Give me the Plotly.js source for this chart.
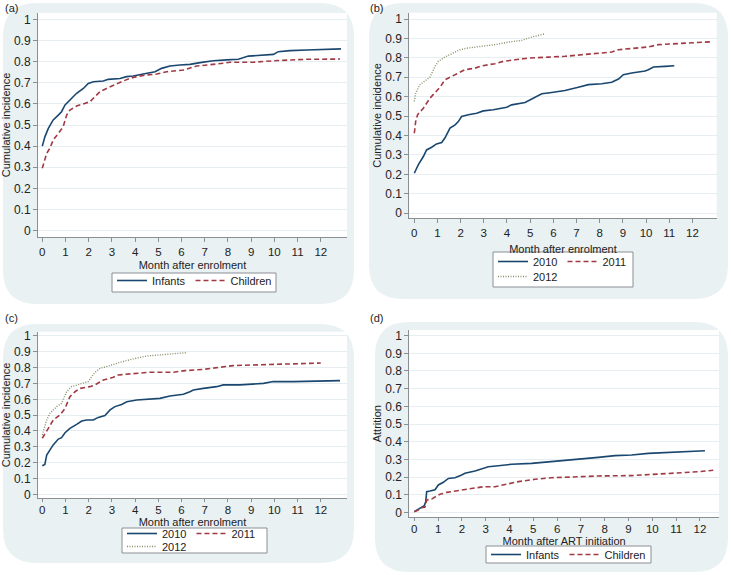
<!DOCTYPE html>
<html>
<head>
<meta charset="utf-8">
<script src="https://cdn.plot.ly/plotly-3.0.1.min.js"></script>
<style>html,body{margin:0;padding:0;background:#fff}#chart{width:731px;height:575px}</style>
</head>
<body>
<div id="chart"></div>
<script>
// ---- Panel (a): cumulative incidence by age group, month after enrolment ----
const aInfantsMonth = [0,0.115,0.26,0.47,0.69,0.83,0.98,1.19,1.48,1.77,1.98,2.2,2.63,2.84,3.35,3.63,3.92,4.35,4.86,5.14,5.5,5.93,6.36,6.8,7.37,7.95,8.45,8.88,9.53,9.96,10.17,10.68,11.39,12.11,12.87];
const aInfantsValue = [0.40,0.445,0.484,0.524,0.547,0.563,0.595,0.618,0.65,0.673,0.697,0.705,0.708,0.716,0.72,0.729,0.732,0.741,0.752,0.768,0.779,0.784,0.787,0.795,0.804,0.808,0.811,0.826,0.831,0.834,0.847,0.852,0.855,0.858,0.86];
const aChildrenMonth = [0,0.19,0.33,0.47,0.69,0.9,1.05,1.19,1.48,1.84,2.05,2.27,2.49,2.77,3.06,3.42,3.78,4.07,4.5,4.93,5.36,6.08,6.65,7.23,7.8,8.09,9.09,9.96,10.68,11.39,12.83];
const aChildrenValue = [0.295,0.366,0.39,0.429,0.46,0.492,0.547,0.571,0.59,0.603,0.61,0.634,0.658,0.673,0.689,0.705,0.721,0.729,0.737,0.741,0.752,0.76,0.779,0.784,0.792,0.797,0.797,0.804,0.808,0.811,0.812];

// ---- Panel (b): cumulative incidence by enrolment year ----
const b2010Month = [0,0.17,0.39,0.53,0.75,0.96,1.18,1.32,1.54,1.76,1.9,2.04,2.33,2.69,2.98,3.41,3.99,4.2,4.78,5.14,5.5,5.93,6.5,7.08,7.51,8.09,8.52,8.81,9.02,9.38,9.96,10.1,10.32,10.82,11.22];
const b2010Value = [0.206,0.249,0.292,0.326,0.34,0.357,0.364,0.387,0.438,0.455,0.472,0.498,0.507,0.515,0.527,0.533,0.546,0.558,0.57,0.593,0.615,0.622,0.632,0.649,0.662,0.667,0.674,0.691,0.713,0.722,0.732,0.739,0.753,0.756,0.759];
const b2011Month = [0,0.06,0.14,0.39,0.68,0.89,1.11,1.32,1.61,1.9,2.19,2.62,2.91,3.48,3.84,4.35,4.92,5.78,6.5,7.22,7.94,8.52,8.81,9.38,10.1,10.53,11.55,12.83];
const b2011Value = [0.412,0.473,0.507,0.541,0.593,0.619,0.649,0.687,0.704,0.725,0.739,0.747,0.759,0.77,0.782,0.79,0.799,0.804,0.808,0.816,0.825,0.83,0.842,0.847,0.856,0.868,0.876,0.883];
const b2012Month = [0,0.06,0.24,0.53,0.68,0.89,1.04,1.32,1.61,1.97,2.33,2.91,3.48,4.06,4.63,5.06,5.64];
const b2012Value = [0.576,0.619,0.662,0.687,0.701,0.756,0.782,0.804,0.821,0.842,0.851,0.859,0.868,0.881,0.89,0.907,0.924];

// ---- Panel (c): cumulative incidence by enrolment year ----
const c2010Month = [0,0.11,0.19,0.33,0.47,0.69,0.83,0.98,1.19,1.48,1.7,1.91,2.2,2.41,2.7,2.92,3.13,3.42,3.64,4.07,4.57,5.07,5.5,6.08,6.36,6.51,6.94,7.51,7.8,8.52,9.53,9.96,10.82,11.82,12.83];
const c2010Value = [0.181,0.189,0.248,0.28,0.312,0.349,0.358,0.389,0.417,0.442,0.463,0.469,0.469,0.486,0.497,0.533,0.554,0.568,0.585,0.596,0.6,0.606,0.621,0.632,0.648,0.659,0.669,0.68,0.691,0.691,0.701,0.712,0.712,0.716,0.718];
const c2011Month = [0,0.11,0.26,0.47,0.76,0.98,1.19,1.41,1.62,2.05,2.27,2.63,3.06,3.28,3.92,4.64,5.65,6.15,6.94,7.37,7.8,8.23,9.09,10.39,11.39,12.0];
const c2011Value = [0.354,0.385,0.417,0.469,0.501,0.543,0.617,0.648,0.669,0.68,0.691,0.722,0.739,0.754,0.764,0.771,0.771,0.781,0.789,0.796,0.806,0.813,0.817,0.821,0.825,0.829];
const c2012Month = [0,0.04,0.19,0.33,0.47,0.62,0.83,1.05,1.26,1.62,1.98,2.27,2.49,2.92,3.35,3.92,4.5,5.07,5.65,6.22];
const c2012Value = [0.375,0.396,0.469,0.512,0.533,0.554,0.575,0.648,0.68,0.695,0.712,0.771,0.796,0.813,0.834,0.855,0.874,0.88,0.886,0.895];

// ---- Panel (d): attrition after ART initiation ----
const dInfantsMonth = [0,0.17,0.31,0.42,0.48,0.52,0.66,0.87,1.01,1.22,1.43,1.71,1.99,2.13,2.55,2.9,3.11,3.53,4.09,4.93,5.77,6.33,6.61,7.24,7.73,8.43,9.13,9.83,10.53,11.23,12.21];
const dInfantsValue = [0.004,0.019,0.032,0.038,0.06,0.117,0.121,0.128,0.155,0.17,0.192,0.196,0.211,0.221,0.234,0.249,0.258,0.264,0.272,0.277,0.287,0.291,0.298,0.302,0.311,0.321,0.325,0.334,0.338,0.343,0.349];
const dChildrenMonth = [0,0.17,0.31,0.45,0.52,0.73,0.87,1.08,1.36,1.85,2.41,2.9,3.39,3.81,4.37,5.07,5.77,6.61,7.73,9.13,10.11,10.95,11.93,12.56];
const dChildrenValue = [0.004,0.013,0.026,0.03,0.07,0.075,0.087,0.102,0.113,0.123,0.132,0.145,0.145,0.158,0.174,0.187,0.196,0.2,0.206,0.208,0.215,0.225,0.23,0.238];

// ---- labels ----
const panelLabels = ['(a)', '(b)', '(c)', '(d)'];
const xTitles = ['Month after enrolment', 'Month after enrolment', 'Month after enrolment', 'Month after ART initiation'];
const yTitles = ['Cumulative incidence', 'Cumulative incidence', 'Cumulative incidence', 'Attrition'];
const xTickVals = [0,1,2,3,4,5,6,7,8,9,10,11,12];
const yTickVals = [0,0.1,0.2,0.3,0.4,0.5,0.6,0.7,0.8,0.9,1];
const yTickText = ['0','0.1','0.2','0.3','0.4','0.5','0.6','0.7','0.8','0.9','1'];

// ---- styling ----
const W = 731, H = 575;
const NAVY = '#1a476f', MAROON = '#a23a44', OLIVE = '#878f68';
const BG = '#eaf1f3', GRID = '#e6eef1', AXIS = '#8a8f94';
const FONT = 'Liberation Sans, Arial, Helvetica, sans-serif';
const px = v => v / W, py = v => 1 - v / H;

const solid = {color: NAVY, width: 1.6};
const dashed = {color: MAROON, width: 1.6, dash: '5px,3px'};
const dotted = {color: OLIVE, width: 1.4, dash: '1px,1.5px'};

function tr(x, y, name, line, n, legend) {
  const s = n === 1 ? '' : String(n);
  return {x: x, y: y, name: name, type: 'scatter', mode: 'lines', line: line,
          xaxis: 'x' + s, yaxis: 'y' + s, legend: legend, showlegend: true, hoverinfo: 'skip'};
}

const data = [
  tr(aInfantsMonth, aInfantsValue, 'Infants', solid, 1, 'legend'),
  tr(aChildrenMonth, aChildrenValue, 'Children', dashed, 1, 'legend'),
  tr(b2010Month, b2010Value, '2010', solid, 2, 'legend2'),
  tr(b2011Month, b2011Value, '2011', dashed, 2, 'legend2'),
  tr(b2012Month, b2012Value, '2012', dotted, 2, 'legend3'),
  tr(c2010Month, c2010Value, '2010', solid, 3, 'legend4'),
  tr(c2011Month, c2011Value, '2011', dashed, 3, 'legend4'),
  tr(c2012Month, c2012Value, '2012', dotted, 3, 'legend5'),
  tr(dInfantsMonth, dInfantsValue, 'Infants', solid, 4, 'legend6'),
  tr(dChildrenMonth, dChildrenValue, 'Children', dashed, 4, 'legend6')
];

// panel geometry in pixels
const panels = [
  {plot: [38, 13, 347, 237], bg: [3, 3, 354, 304], xr: [-0.185, 13.13], yr: [-0.03, 1.03], lab: [3, 8], standoff: 4, tl: 4, tls: 0},
  {plot: [409.3, 12.7, 716.7, 218.3], bg: [369, 3, 728, 299], xr: [-0.216, 13.05], yr: [-0.026, 1.0325], lab: [368, 8], standoff: 7, tl: 4, tls: 0},
  {plot: [38, 331.7, 347, 498.3], bg: [3, 324, 354, 563], xr: [-0.185, 13.13], yr: [-0.025, 1.027], lab: [3, 318], standoff: 0, tl: 3, tls: -2},
  {plot: [409.3, 330, 719, 517.3], bg: [375, 322, 728, 572], xr: [-0.21, 12.8], yr: [-0.028, 1.032], lab: [368, 318], standoff: 0, tl: 3, tls: -2}
];

// legend frames (px): [left, top, right, bottom]
const legendFrames = [[112, 273, 276, 292], [493, 252, 633, 287], [122, 528, 267, 553], [486, 546, 651, 563]];

function roundRect(L, T, R, B, r) {
  const P = (a, b) => px(a).toFixed(5) + ',' + py(b).toFixed(5);
  return 'M' + P(L + r, T) + ' L' + P(R - r, T) + ' Q' + P(R, T) + ' ' + P(R, T + r) +
         ' L' + P(R, B - r) + ' Q' + P(R, B) + ' ' + P(R - r, B) +
         ' L' + P(L + r, B) + ' Q' + P(L, B) + ' ' + P(L, B - r) +
         ' L' + P(L, T + r) + ' Q' + P(L, T) + ' ' + P(L + r, T) + ' Z';
}

const layout = {
  width: W, height: H,
  margin: {l: 0, r: 0, t: 0, b: 0, pad: 0},
  paper_bgcolor: '#ffffff', plot_bgcolor: '#ffffff',
  font: {family: FONT, size: 11, color: '#222'},
  shapes: [], annotations: []
};

panels.forEach((p, i) => {
  const s = i === 0 ? '' : String(i + 1);
  const [L, T, R, B] = p.plot;
  layout['xaxis' + s] = {
    domain: [px(L), px(R)], range: p.xr, anchor: 'y' + s,
    tickvals: xTickVals, ticks: 'outside', ticklen: p.tl, tickcolor: AXIS, tickwidth: 1,
    ticklabelstandoff: p.tls,
    showline: true, linecolor: AXIS, linewidth: 1, showgrid: false, zeroline: false,
    tickfont: {size: 11.5, color: '#222'},
    title: {text: xTitles[i], font: {size: 11, color: '#222'}, standoff: p.standoff},
    fixedrange: true
  };
  layout['yaxis' + s] = {
    domain: [py(B), py(T)], range: p.yr, anchor: 'x' + s,
    tickvals: yTickVals, ticktext: yTickText, ticks: 'outside', ticklen: 4, tickcolor: AXIS, tickwidth: 1,
    showline: true, linecolor: AXIS, linewidth: 1, showgrid: true, gridcolor: GRID, gridwidth: 1, zeroline: false,
    tickfont: {size: 12, color: '#222'},
    title: {text: yTitles[i], font: {size: 11, color: '#222'}, standoff: 1},
    fixedrange: true
  };
  layout.shapes.push({type: 'path', xref: 'paper', yref: 'paper', path: roundRect(p.bg[0], p.bg[1], p.bg[2], p.bg[3], 34),
                      fillcolor: BG, line: {width: 0}, layer: 'below'});
  layout.shapes.push({type: 'rect', xref: 'paper', yref: 'paper', x0: px(L), x1: px(R), y0: py(B), y1: py(T),
                      fillcolor: '#ffffff', line: {width: 0}, layer: 'below'});
  layout.annotations.push({text: panelLabels[i], xref: 'paper', yref: 'paper', x: px(p.lab[0]), y: py(p.lab[1]),
                           xanchor: 'left', yanchor: 'middle', showarrow: false, font: {size: 11, color: '#222'}});
});

legendFrames.forEach(f => {
  layout.shapes.push({type: 'rect', xref: 'paper', yref: 'paper', x0: px(f[0]), x1: px(f[2]), y0: py(f[3]), y1: py(f[1]),
                      fillcolor: '#ffffff', line: {color: AXIS, width: 1}, layer: 'below'});
});

const legBase = {orientation: 'h', xanchor: 'left', yanchor: 'top', font: {size: 11, color: '#222'},
                 bgcolor: 'rgba(0,0,0,0)', borderwidth: 0, itemclick: false, itemdoubleclick: false};
layout.legend  = Object.assign({}, legBase, {x: px(112), y: py(266)});
layout.legend2 = Object.assign({}, legBase, {x: px(493), y: py(247)});
layout.legend3 = Object.assign({}, legBase, {x: px(493), y: py(262)});
layout.legend4 = Object.assign({}, legBase, {x: px(122), y: py(519)});
layout.legend5 = Object.assign({}, legBase, {x: px(122), y: py(532)});
layout.legend6 = Object.assign({}, legBase, {x: px(486), y: py(540)});

Plotly.newPlot('chart', data, layout, {displayModeBar: false, staticPlot: true});
</script>
</body>
</html>
